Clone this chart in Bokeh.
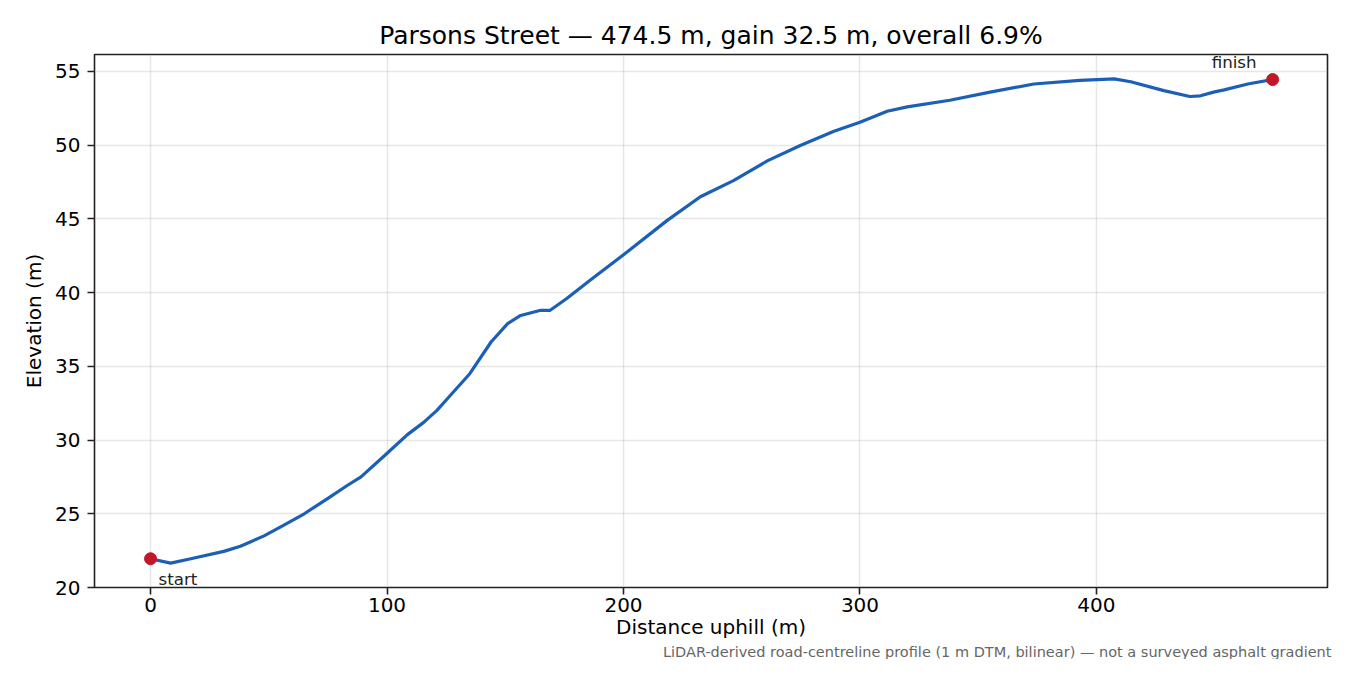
from bokeh.plotting import figure
from bokeh.models import Range1d, Title, FixedTicker
from bokeh.core.properties import value
from bokeh.embed import file_html
from bokeh.resources import INLINE

# Data: distance uphill (m) and elevation (m)
distance = [0, 8.5, 17, 31, 38, 48, 56, 65, 75, 83, 89, 99, 108.5, 115.5, 121, 125.5,
            135, 144, 151, 156.5, 165, 169, 176, 186, 201.5, 218.5, 232.5,
            246.5, 261, 275, 289, 300, 311.5, 320, 338, 355, 373.5, 393, 407.5,
            414.5, 428.5, 439.5, 444, 449.5, 454, 464, 474.5]
elevation = [21.95, 21.65, 21.95, 22.45, 22.8, 23.5, 24.2, 25.0, 26.05, 26.9, 27.5,
             28.95, 30.35, 31.2, 32.0, 32.8, 34.5, 36.65, 37.9, 38.45, 38.8, 38.8,
             39.6, 40.85, 42.75, 44.9, 46.5, 47.6, 48.95, 50.0, 50.95, 51.55,
             52.3, 52.6, 53.05, 53.6, 54.15, 54.4, 54.5, 54.3, 53.7, 53.3, 53.35,
             53.6, 53.75, 54.15, 54.45]
x_ticks = [0, 100, 200, 300, 400]
y_ticks = [20, 25, 30, 35, 40, 45, 50, 55]

title_text = "Parsons Street \u2014 474.5 m, gain 32.5 m, overall 6.9%"
note_text = ("LiDAR-derived road-centreline profile (1 m DTM, bilinear) \u2014 "
             "not a surveyed asphalt gradient")

FONT = "DejaVu Sans"
LINE = "#1c5fb6"
DOT = "#c0182a"

p = figure(width=1334, height=659, output_backend="svg", toolbar_location=None,
           x_range=Range1d(-23.7, 497.7), y_range=Range1d(20.0, 56.15),
           min_border_left=94, min_border_right=7, min_border_top=54,
           min_border_bottom=72)

p.title.text = title_text
p.title.align = "center"
p.title.text_font = FONT
p.title.text_font_size = "25px"
p.title.text_font_style = "normal"
p.title.text_color = "black"
p.title.standoff = 9

# footnote sits under the x-axis title, right edge just past the frame
p.add_layout(Title(text=note_text, align="right", offset=-4, standoff=0,
                   text_font=FONT, text_font_size="14.5px", text_font_style="normal",
                   text_color="#666666"), "below")

p.line(distance, elevation, line_color=LINE, line_width=3.2)
p.scatter([distance[0], distance[-1]], [elevation[0], elevation[-1]],
          size=12, fill_color=DOT, line_color=DOT)

p.text([distance[0]], [elevation[0]], text=["start"], x_offset=8, y_offset=20,
       text_font=value(FONT), text_font_size="16.7px", text_color="#222222",
       text_baseline="middle", text_align="left")
p.text([distance[-1]], [elevation[-1]], text=["finish"], x_offset=-16, y_offset=-18,
       text_font=value(FONT), text_font_size="16.7px", text_color="#222222",
       text_baseline="middle", text_align="right")

p.xaxis.ticker = FixedTicker(ticks=x_ticks)
p.yaxis.ticker = FixedTicker(ticks=y_ticks)
p.xaxis.axis_label = "Distance uphill (m)"
p.yaxis.axis_label = "Elevation (m)"

for ax in (p.xaxis, p.yaxis):
    ax.axis_label_text_font = FONT
    ax.axis_label_text_font_size = "20px"
    ax.axis_label_text_font_style = "normal"
    ax.axis_label_text_color = "black"
    ax.major_label_text_font = FONT
    ax.major_label_text_font_size = "20px"
    ax.major_label_text_color = "black"
    ax.major_tick_out = 7
    ax.major_tick_in = 0
    ax.minor_tick_out = 0
    ax.minor_tick_in = 0
    ax.major_tick_line_width = 1.6
    ax.major_tick_line_color = "#222222"
    ax.axis_line_color = None

p.xaxis.major_label_standoff = 3
p.xaxis.axis_label_standoff = 0
p.yaxis.major_label_standoff = 7
p.yaxis.axis_label_standoff = 6

p.outline_line_color = "#222222"
p.outline_line_width = 1.6

p.xgrid.grid_line_color = "#b0b0b0"
p.ygrid.grid_line_color = "#b0b0b0"
p.xgrid.grid_line_alpha = 0.3
p.ygrid.grid_line_alpha = 0.3
p.xgrid.grid_line_width = 1.5
p.ygrid.grid_line_width = 1.5

p.background_fill_color = "white"
p.border_fill_color = "white"

open("out.html", "w").write(file_html(p, INLINE))
